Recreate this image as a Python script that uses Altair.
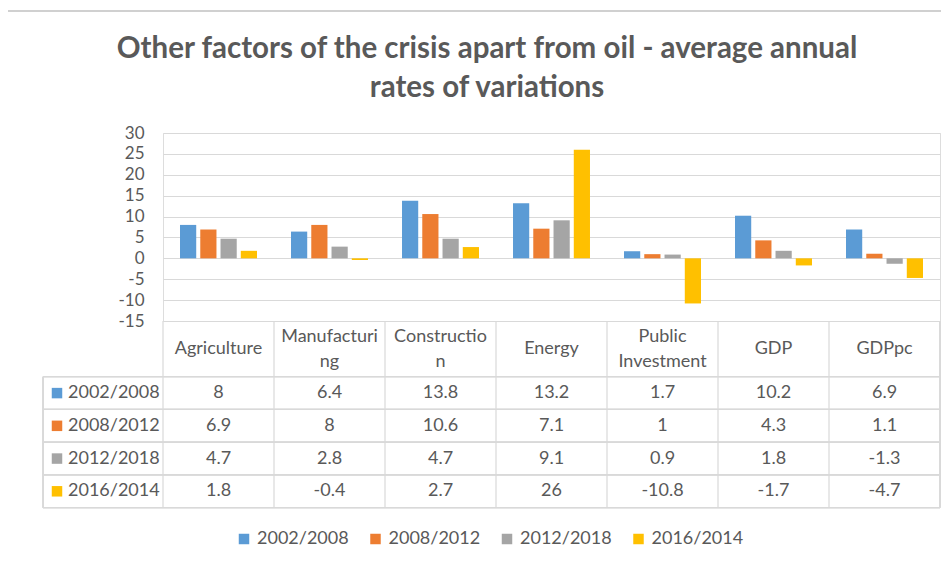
import altair as alt
import pandas as pd

categories = ["Agriculture", "Manufacturing", "Construction", "Energy",
              "Public Investment", "GDP", "GDPpc"]
header_labels = ["Agriculture", "Manufacturi\nng", "Constructio\nn", "Energy",
                 "Public\nInvestment", "GDP", "GDPpc"]
series = ["2002/2008", "2008/2012", "2012/2018", "2016/2014"]
v_2002_2008 = [8, 6.4, 13.8, 13.2, 1.7, 10.2, 6.9]
v_2008_2012 = [6.9, 8, 10.6, 7.1, 1, 4.3, 1.1]
v_2012_2018 = [4.7, 2.8, 4.7, 9.1, 0.9, 1.8, -1.3]
v_2016_2014 = [1.8, -0.4, 2.7, 26, -10.8, -1.7, -4.7]
colors = ["#5b9bd5", "#ed7d31", "#a5a5a5", "#ffc000"]
y_ticks = [-15, -10, -5, 0, 5, 10, 15, 20, 25, 30]
title_lines = ["Other factors of the crisis apart from oil - average annual",
               "rates of variations"]

values_by_series = [v_2002_2008, v_2008_2012, v_2012_2018, v_2016_2014]
rows = []
for s, vals in zip(series, values_by_series):
    for c, v in zip(categories, vals):
        rows.append({"category": c, "series": s, "value": v, "label": f"{v:g}"})
df = pd.DataFrame(rows)
df_cat = pd.DataFrame({"category": categories, "header": header_labels,
                       "nlines": [h.count("\n") + 1 for h in header_labels]})
df_ser = pd.DataFrame({"series": series})
df_title = pd.DataFrame({"line": title_lines})

W, H = 777, 188
FONT = "Lato"
TXT = "#595959"
GRID = "#d9d9d9"

x_enc = alt.X("category:N", sort=categories, axis=None,
              scale=alt.Scale(paddingInner=0, paddingOuter=0))
color_enc = alt.Color("series:N", sort=series,
                      scale=alt.Scale(domain=series, range=colors),
                      legend=alt.Legend(title=None, orient="none", direction="horizontal",
                                        legendX=72, legendY=397, symbolType="square",
                                        symbolSize=110, symbolStrokeWidth=0,
                                        labelFont=FONT, labelFontSize=18, labelColor=TXT,
                                        labelOffset=4, columnPadding=17.5, padding=0))

row_scale = dict(type="point", domain=series, range=[260.1, 358.3], padding=0)

bars = alt.Chart(df).mark_bar().encode(
    x=x_enc,
    xOffset=alt.XOffset("series:N", sort=series,
                        scale=alt.Scale(paddingInner=0.2, paddingOuter=0.84)),
    y=alt.Y("value:Q", scale=alt.Scale(domain=[-15, 30], nice=False, zero=False),
            axis=alt.Axis(values=y_ticks, title=None, grid=True, gridColor=GRID,
                          domain=False, ticks=False, labelPadding=19,
                          labelExpr="'' + datum.value",
                          labelFont=FONT, labelFontSize=17, labelColor=TXT)),
    color=color_enc,
)

headers_1 = alt.Chart(df_cat).transform_filter("datum.nlines == 1").mark_text(
    font=FONT, fontSize=18, color=TXT, baseline="middle", align="center",
).encode(x=x_enc, y=alt.value(216), text="header:N")

headers_2 = alt.Chart(df_cat).transform_filter("datum.nlines == 2").mark_text(
    font=FONT, fontSize=18, color=TXT, baseline="middle", align="center",
    lineBreak="\n", lineHeight=25,
).encode(x=x_enc, y=alt.value(204), text="header:N")

cells = alt.Chart(df).mark_text(
    font=FONT, fontSize=18, color=TXT, baseline="middle", align="center",
).encode(
    x=x_enc,
    y=alt.Y("series:N", sort=series, scale=alt.Scale(**row_scale), axis=None),
    text="label:N",
)

row_labels = alt.Chart(df_ser).mark_text(
    font=FONT, fontSize=18, color=TXT, baseline="middle", align="left",
).encode(
    x=alt.value(-95),
    y=alt.Y("series:N", sort=series, scale=alt.Scale(**row_scale), axis=None),
    text="series:N",
)

row_keys = alt.Chart(df_ser).mark_square(size=110, opacity=1).encode(
    x=alt.value(-106),
    y=alt.Y("series:N", sort=series, scale=alt.Scale(**row_scale), axis=None),
    color=color_enc,
)

vlines = alt.Chart(df_cat).mark_rule(color=GRID, strokeWidth=1.2).encode(
    x=alt.X("category:N", sort=categories, axis=None, bandPosition=0,
            scale=alt.Scale(paddingInner=0, paddingOuter=0)),
    y=alt.value(188), y2=alt.value(374.7),
)

struct = []
struct.append(alt.Chart(df_ser).mark_rule(color=GRID, strokeWidth=1.2).encode(
    x=alt.value(W), y=alt.value(188), y2=alt.value(374.7)))
struct.append(alt.Chart(df_ser).mark_rule(color=GRID, strokeWidth=1.2).encode(
    x=alt.value(-120), y=alt.value(243.7), y2=alt.value(374.7)))
for yy in [243.7, 276.45, 309.2, 341.95, 374.7]:
    struct.append(alt.Chart(df_ser).mark_rule(color=GRID, strokeWidth=1.2).encode(
        x=alt.value(-120), x2=alt.value(W), y=alt.value(yy)))
struct.append(alt.Chart(df_ser).mark_rule(color="#d0d0d0", strokeWidth=2).encode(
    x=alt.value(-155), x2=alt.value(W + 1), y=alt.value(-122)))

title_1 = alt.Chart(df_title.iloc[[0]]).mark_text(
    font=FONT, fontSize=29.5, fontWeight="bold", color=TXT, align="center",
    baseline="alphabetic").encode(x=alt.value(324), y=alt.value(-75), text="line:N")
title_2 = alt.Chart(df_title.iloc[[1]]).mark_text(
    font=FONT, fontSize=29.5, fontWeight="bold", color=TXT, align="center",
    baseline="alphabetic").encode(x=alt.value(324), y=alt.value(-36), text="line:N")

chart = alt.layer(
    bars, headers_1, headers_2, cells, row_labels, row_keys, vlines, *struct,
    title_1, title_2
).resolve_scale(y="independent").properties(
    width=W, height=H,
    padding={"left": 155, "top": 125, "right": 1, "bottom": 228},
    autosize=alt.AutoSizeParams(type="none"),
).configure_view(stroke=None).configure(background="white")

chart.save("out.html", embed_options={"renderer": "svg", "actions": False})
